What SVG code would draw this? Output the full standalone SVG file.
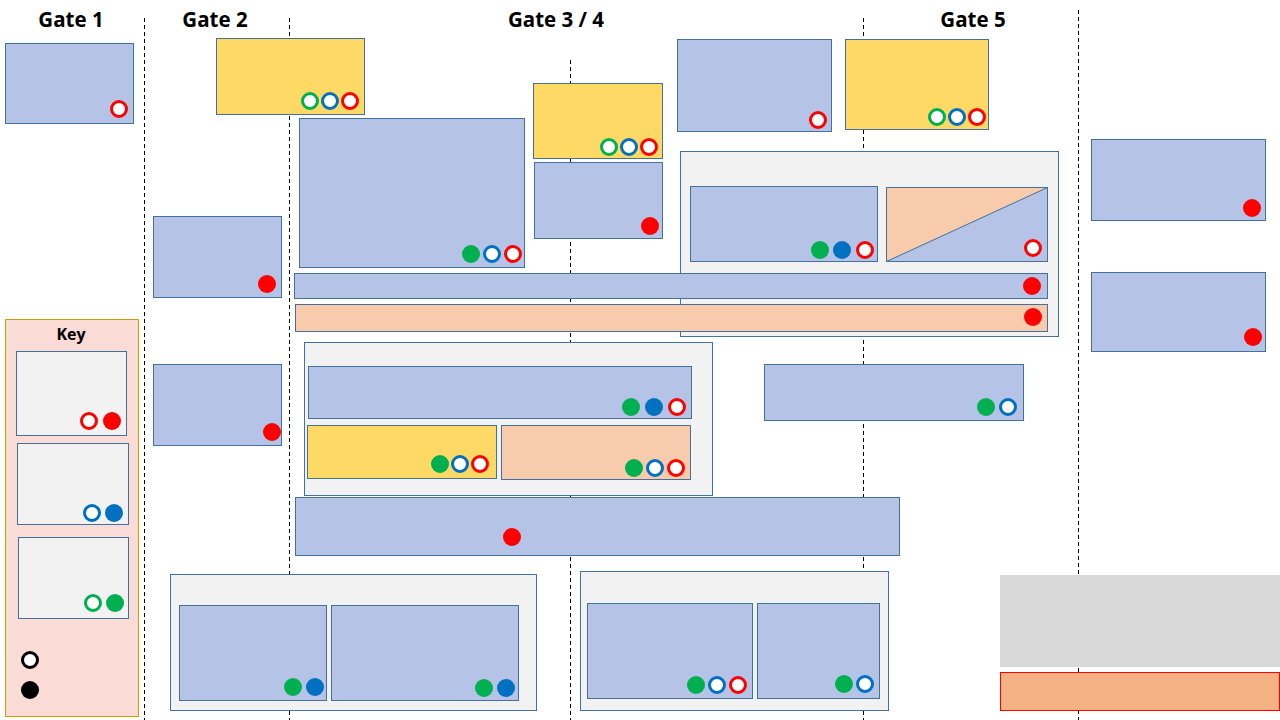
<svg xmlns="http://www.w3.org/2000/svg" width="1280" height="720" viewBox="0 0 1280 720">
<style>
.b{fill:#B4C3E6;stroke:#41719C;stroke-width:1}
.y{fill:#FFD966;stroke:#41719C;stroke-width:1}
.p{fill:#F8CBAD;stroke:#41719C;stroke-width:1}
.g{fill:#F2F2F2;stroke:#41719C;stroke-width:1}
.d{stroke:#000;stroke-width:1;stroke-dasharray:4 3;fill:none}
.h{font-family:"Open Sans","Liberation Sans",sans-serif;font-weight:bold;font-size:20.5px;fill:#000;text-anchor:middle}
.k{font-family:"Open Sans","Liberation Sans",sans-serif;font-weight:bold;font-size:16px;fill:#000;text-anchor:middle}
.hr{fill:#fff;stroke:#FF0000;stroke-width:3}
.hb{fill:#fff;stroke:#0070C0;stroke-width:3}
.hg{fill:#fff;stroke:#00B050;stroke-width:3}
.hk{fill:#fff;stroke:#000;stroke-width:3}
.fr{fill:#FF0000}
.fb{fill:#0070C0}
.fg{fill:#00B050}
.fk{fill:#000}
</style>
<rect width="1280" height="720" fill="#fff"/>
<g id="gates">
<line class="d" x1="144.5" y1="18" x2="144.5" y2="720"/>
<line class="d" x1="289.5" y1="18" x2="289.5" y2="720"/>
<line class="d" x1="570.5" y1="60" x2="570.5" y2="720"/>
<line class="d" x1="863.5" y1="18" x2="863.5" y2="720"/>
<line class="d" x1="1078.5" y1="10" x2="1078.5" y2="720"/>
<text class="h" x="71" y="27">Gate 1</text>
<text class="h" x="215" y="27">Gate 2</text>
<text class="h" x="556" y="27">Gate 3 / 4</text>
<text class="h" x="973" y="27">Gate 5</text>
</g>
<g id="n1"><rect class="b" x="5.5" y="43.5" width="128" height="80"/><circle class="hr" cx="119" cy="109" r="7.5"/></g>
<g id="n2"><rect class="y" x="216.5" y="38.5" width="148" height="76"/><circle class="hg" cx="310" cy="101" r="7.5"/><circle class="hb" cx="330" cy="101" r="7.5"/><circle class="hr" cx="350" cy="101" r="7.5"/></g>
<g id="n3"><rect class="b" x="299.5" y="118.5" width="225" height="149"/><circle class="fg" cx="471" cy="254" r="9"/><circle class="hb" cx="492" cy="254" r="7.5"/><circle class="hr" cx="513" cy="254" r="7.5"/></g>
<g id="n4"><rect class="y" x="533.5" y="83.5" width="129" height="75"/><circle class="hg" cx="609" cy="147" r="7.5"/><circle class="hb" cx="629" cy="147" r="7.5"/><circle class="hr" cx="649" cy="147" r="7.5"/></g>
<g id="n5"><rect class="b" x="534.5" y="162.5" width="128" height="76"/><circle class="fr" cx="650" cy="226" r="9"/></g>
<g id="n6"><rect class="b" x="677.5" y="39.5" width="154" height="92"/><circle class="hr" cx="818" cy="120" r="7.5"/></g>
<g id="n7"><rect class="y" x="845.5" y="39.5" width="143" height="90"/><circle class="hg" cx="937" cy="117" r="7.5"/><circle class="hb" cx="957" cy="117" r="7.5"/><circle class="hr" cx="977" cy="117" r="7.5"/></g>
<g id="c1"><rect class="g" x="680.5" y="151.5" width="378" height="185"/></g>
<g id="n8"><rect class="b" x="690.5" y="186.5" width="187" height="75"/><circle class="fg" cx="820" cy="250" r="9"/><circle class="fb" cx="842" cy="250" r="9"/><circle class="hr" cx="865" cy="250" r="7.5"/></g>
<g id="n9"><rect x="886.5" y="187.5" width="161" height="74" fill="#F8CBAD"/><polygon points="886.5,261.5 1047.5,187.5 1047.5,261.5" fill="#B4C3E6" stroke="#41719C"/><rect x="886.5" y="187.5" width="161" height="74" fill="none" stroke="#41719C"/><circle class="hr" cx="1033" cy="248" r="7.5"/></g>
<g id="n10"><rect class="b" x="294.5" y="273.5" width="753" height="25"/><circle class="fr" cx="1032" cy="286" r="9"/></g>
<g id="n11"><rect class="p" x="295.5" y="304.5" width="752" height="27"/><circle class="fr" cx="1033" cy="317" r="9"/></g>
<g id="n12"><rect class="b" x="1091.5" y="139.5" width="174" height="81"/><circle class="fr" cx="1252" cy="208" r="9"/></g>
<g id="n13"><rect class="b" x="1091.5" y="272.5" width="174" height="79"/><circle class="fr" cx="1253" cy="337" r="9"/></g>
<g id="n14"><rect class="b" x="153.5" y="216.5" width="128" height="81"/><circle class="fr" cx="267" cy="284" r="9"/></g>
<g id="n15"><rect class="b" x="153.5" y="364.5" width="128" height="81"/><circle class="fr" cx="272" cy="432" r="9"/></g>
<g id="c2"><rect class="g" x="304.5" y="342.5" width="408" height="153"/></g>
<g id="n16"><rect class="b" x="308.5" y="366.5" width="383" height="52"/><circle class="fg" cx="631" cy="407" r="9"/><circle class="fb" cx="654" cy="407" r="9"/><circle class="hr" cx="677" cy="407" r="7.5"/></g>
<g id="n17"><rect class="y" x="307.5" y="425.5" width="189" height="53"/><circle class="fg" cx="440" cy="464" r="9"/><circle class="hb" cx="460" cy="464" r="7.5"/><circle class="hr" cx="480" cy="464" r="7.5"/></g>
<g id="n18"><rect class="p" x="501.5" y="425.5" width="189" height="54"/><circle class="fg" cx="634" cy="468" r="9"/><circle class="hb" cx="655" cy="468" r="7.5"/><circle class="hr" cx="676" cy="468" r="7.5"/></g>
<g id="n19"><rect class="b" x="764.5" y="364.5" width="259" height="56"/><circle class="fg" cx="986" cy="407" r="9"/><circle class="hb" cx="1008" cy="407" r="7.5"/></g>
<g id="n20"><rect class="b" x="295.5" y="497.5" width="604" height="58"/><circle class="fr" cx="512" cy="537" r="9"/></g>
<g id="c3"><rect class="g" x="170.5" y="574.5" width="366" height="136"/></g>
<g id="n21"><rect class="b" x="179.5" y="605.5" width="147" height="95"/><circle class="fg" cx="293" cy="687" r="9"/><circle class="fb" cx="315" cy="687" r="9"/></g>
<g id="n22"><rect class="b" x="331.5" y="605.5" width="187" height="95"/><circle class="fg" cx="484" cy="688" r="9"/><circle class="fb" cx="506" cy="688" r="9"/></g>
<g id="c4"><rect class="g" x="580.5" y="571.5" width="308" height="139"/></g>
<g id="n23"><rect class="b" x="587.5" y="603.5" width="165" height="95"/><circle class="fg" cx="696" cy="685" r="9"/><circle class="hb" cx="717" cy="685" r="7.5"/><circle class="hr" cx="738" cy="685" r="7.5"/></g>
<g id="n24"><rect class="b" x="757.5" y="603.5" width="122" height="95"/><circle class="fg" cx="844" cy="684" r="9"/><circle class="hb" cx="865" cy="684" r="7.5"/></g>
<g id="n25"><rect x="1000" y="575" width="280" height="92" fill="#D9D9D9"/></g>
<g id="n26"><rect x="1000.5" y="672.5" width="279" height="38" fill="#F4B183" stroke="#FF0000" stroke-width="1"/></g>
<g id="key">
<rect x="5.5" y="319.5" width="133" height="397" fill="#FADBD5" stroke="#C9A000" stroke-width="1"/>
<text class="k" x="71" y="340">Key</text>
<rect class="g" x="16.5" y="351.5" width="110" height="84"/><circle class="hr" cx="89" cy="421" r="7.5"/><circle class="fr" cx="112" cy="421" r="9"/>
<rect class="g" x="17.5" y="443.5" width="111" height="81"/><circle class="hb" cx="92" cy="513" r="7.5"/><circle class="fb" cx="114" cy="513" r="9"/>
<rect class="g" x="18.5" y="537.5" width="110" height="81"/><circle class="hg" cx="93" cy="603" r="7.5"/><circle class="fg" cx="115" cy="603" r="9"/>
<circle class="hk" cx="30" cy="660" r="7.5"/><circle class="fk" cx="30" cy="690" r="9"/>
</g>
<g id="connectors"></g>
</svg>
